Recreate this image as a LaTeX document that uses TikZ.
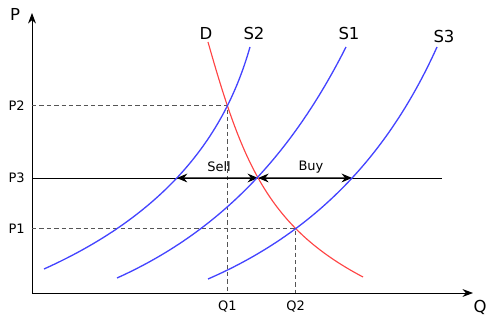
\documentclass[tikz,border=0pt]{standalone}
\usepackage{fontspec}
\setmainfont{DejaVu Sans}
\usepackage{tikz}
\usetikzlibrary{arrows.meta,positioning,intersections}
\definecolor{supplyblue}{RGB}{68,68,255}
\definecolor{demandred}{RGB}{255,68,68}
\definecolor{guidegray}{RGB}{85,85,85}

\begin{document}
\begin{tikzpicture}[x=0.02cm, y=0.02cm, line width=0.55pt,
  small/.style={font=\fontsize{7.4}{8}\selectfont, inner sep=1pt},
  big/.style={font=\fontsize{9.4}{10}\selectfont, inner sep=1pt},
  guide/.style={guidegray, line width=0.45pt, dash pattern=on 2.5pt off 1.7pt},
  supply/.style={supplyblue, line width=0.75pt},
  demand/.style={demandred, line width=0.65pt},
  trade/.style={{Stealth[length=6pt,width=5pt,inset=2pt]}-{Stealth[length=6pt,width=5pt,inset=2pt]}, line width=0.6pt}]
\useasboundingbox (-32,-28) rectangle (468,293);
% axes
\draw[-{Stealth[length=6pt,width=4.5pt]}] (0,0) -- (0,280);
\draw[-{Stealth[length=6pt,width=4.5pt]}] (0,0) -- (441,0);
\node[big] (plab) at (-17,279) {P};
\node[big] (qlab) at (448,-14) {Q};
% curves
\path[name path=dd] (176,251) .. controls (210,131) and (236,66) .. (331,16);
\path[name path=ss2] (12,24) .. controls (152,87) and (198,176) .. (218,246);
\path[name path=ss1] (85,15) .. controls (195,64.5) and (264,147) .. (314,246);
\path[name path=ss3] (176,14) .. controls (290,63.5) and (360,146) .. (405,246);
\path[name path=pp3] (0,115) -- (410,115);
\path[name intersections={of=dd and ss2, by=e2}];
\path[name intersections={of=dd and ss3, by=e1}];
\path[name intersections={of=dd and pp3, by=m1}];
\path[name intersections={of=ss2 and pp3, by=m2}];
\path[name intersections={of=ss3 and pp3, by=m3}];
\coordinate (p3end) at (410,115);
% guide lines
\draw[guide] (0,0 |- e2) -- (e2) -- (e2 |- 0,0);
\draw[guide] (0,0 |- e1) -- (e1) -- (e1 |- 0,0);
\node[small, anchor=east] (p2) at (-5,0 |- e2) {P2};
\node[small, anchor=east] (p3) at (-5,115) {P3};
\node[small, anchor=east] (p1) at (-5,0 |- e1) {P1};
\node[small, anchor=north] (q1) at ([yshift=-6*0.02cm]e2 |- 0,0) {Q1};
\node[small, anchor=north] (q2) at ([yshift=-6*0.02cm]e1 |- 0,0) {Q2};
% price line P3
\draw (0,115) -- (p3end);
\draw[trade] (m2) -- (m1);
\draw[trade] (m1) -- (m3);
\node[small] (sell) at (187,126) {Sell};
\node[small] (buy) at (279,126) {Buy};
\draw[demand] (176,251) .. controls (210,131) and (236,66) .. (331,16);
\draw[supply] (12,24) .. controls (152,87) and (198,176) .. (218,246);
\draw[supply] (85,15) .. controls (195,64.5) and (264,147) .. (314,246);
\draw[supply] (176,14) .. controls (290,63.5) and (360,146) .. (405,246);
\node[big] (dlab) at (174,260) {D};
\node[big] (s2lab) at (222,260) {S2};
\node[big] (s1lab) at (317,260) {S1};
\node[big] (s3lab) at (412,257) {S3};
\end{tikzpicture}
\end{document}
